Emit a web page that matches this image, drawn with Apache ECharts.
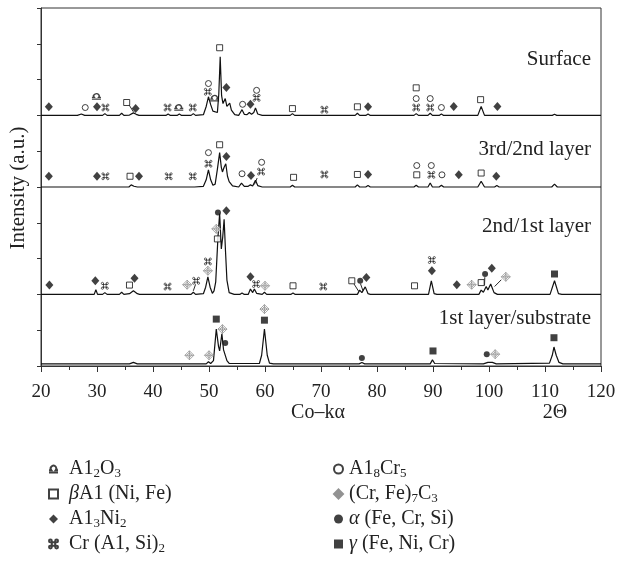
<!DOCTYPE html>
<html><head><meta charset="utf-8">
<script src="https://cdn.jsdelivr.net/npm/echarts@6/dist/echarts.min.js"></script>
<style>html,body{margin:0;padding:0;background:#fff}#c{width:617px;height:577px}</style>
</head><body><div id="c"></div>
<script>
// ---- traces: [2theta, offset intensity] ----
const surface = [[20,7.0],[26.5,7.0],[27.2,7.04],[27.8,7.0],[29.6,7.0],[29.9,7.05],[30.3,7.0],[31.0,7.0],[31.4,7.05],[31.8,7.0],[34.0,7.0],[34.4,7.06],[34.8,7.0],[35.8,7.01],[36.5,7.07],[37.0,7.03],[37.5,7.0],[42.3,7.0],[42.7,7.04],[43.1,7.0],[44.3,7.0],[44.7,7.04],[45.1,7.0],[46.8,7.0],[47.2,7.05],[47.6,7.0],[49.0,7.02],[49.5,7.25],[49.9,7.52],[50.3,7.3],[50.7,7.12],[51.0,7.1],[51.5,7.08],[51.75,7.6],[52.0,8.64],[52.25,7.55],[52.5,7.33],[52.9,7.47],[53.2,7.25],[53.4,7.3],[53.7,7.34],[54.0,7.15],[54.6,7.02],[55.3,7.0],[55.6,7.08],[55.9,7.16],[56.3,7.03],[56.8,7.02],[57.2,7.08],[57.6,7.03],[58.0,7.08],[58.3,7.21],[58.7,7.04],[59.5,7.0],[64.5,7.0],[64.9,7.05],[65.3,7.0],[70.3,7.0],[70.6,7.03],[71.0,7.0],[76.1,7.0],[76.5,7.06],[76.9,7.0],[78.0,7.0],[78.4,7.04],[78.8,7.0],[86.6,7.0],[87.0,7.05],[87.4,7.0],[89.1,7.0],[89.5,7.06],[89.9,7.0],[91.1,7.0],[91.5,7.04],[91.9,7.0],[98.0,7.0],[98.6,7.25],[99.2,7.0],[101.2,7.0],[101.5,7.03],[101.8,7.0],[111.3,7.0],[111.7,7.03],[112.1,7.0],[120,7.0]];
const layer32 = [[20,5.0],[29.6,5.0],[29.9,5.04],[30.2,5.0],[31.0,5.0],[31.3,5.05],[31.7,5.0],[34.0,5.0],[34.3,5.05],[34.7,5.0],[35.7,5.0],[36.1,5.06],[36.6,5.02],[37.2,5.0],[42.5,5.0],[42.8,5.03],[43.1,5.0],[46.8,5.0],[47.1,5.03],[47.4,5.0],[49.0,5.02],[49.5,5.2],[49.9,5.48],[50.3,5.2],[50.7,5.05],[51.1,5.08],[51.5,5.5],[51.9,5.96],[52.2,5.55],[52.4,5.42],[52.7,5.55],[53.0,5.65],[53.3,5.3],[53.6,5.15],[54.2,5.03],[55.3,5.0],[55.8,5.11],[56.3,5.02],[57.0,5.02],[57.4,5.06],[57.8,5.03],[58.3,5.19],[58.7,5.04],[59.5,5.0],[64.5,5.0],[64.9,5.05],[65.3,5.0],[70.3,5.0],[70.6,5.03],[71.0,5.0],[76.1,5.0],[76.5,5.06],[76.9,5.0],[78.0,5.0],[78.4,5.04],[78.8,5.0],[86.6,5.0],[87.0,5.05],[87.4,5.0],[89.1,5.0],[89.5,5.11],[89.9,5.0],[91.1,5.0],[91.5,5.05],[91.9,5.0],[98.0,5.0],[98.6,5.16],[99.2,5.0],[101.0,5.0],[101.4,5.04],[101.8,5.0],[111.2,5.0],[111.7,5.08],[112.2,5.0],[120,5.0]];
const layer21 = [[20,2.0],[29.5,2.0],[29.8,2.13],[30.1,2.0],[31.0,2.0],[31.4,2.05],[31.8,2.0],[34.0,2.0],[34.4,2.06],[34.8,2.0],[35.8,2.02],[36.5,2.1],[36.8,2.13],[37.2,2.02],[37.6,2.0],[42.4,2.0],[42.7,2.03],[43.0,2.0],[44.6,2.0],[44.9,2.03],[45.2,2.0],[46.8,2.0],[47.2,2.06],[47.6,2.0],[49.0,2.02],[49.4,2.2],[49.8,2.49],[50.2,2.2],[50.6,2.03],[50.9,2.1],[51.2,2.35],[51.6,3.6],[51.9,4.26],[52.2,3.27],[52.45,3.6],[52.7,4.1],[52.95,3.2],[53.2,2.4],[53.6,2.05],[54.5,2.0],[55.5,2.0],[55.9,2.04],[56.3,2.0],[57.0,2.0],[57.4,2.15],[57.8,2.05],[58.1,2.15],[58.5,2.03],[59.5,2.0],[59.9,2.06],[60.3,2.0],[64.6,2.0],[65.0,2.04],[65.4,2.0],[70.3,2.0],[70.6,2.03],[71.0,2.0],[76.5,2.0],[76.9,2.12],[77.3,2.05],[77.9,2.21],[78.4,2.02],[78.8,2.0],[86.4,2.0],[86.7,2.04],[87.0,2.0],[89.2,2.0],[89.7,2.38],[90.2,2.02],[90.7,2.0],[93.8,2.0],[94.1,2.04],[94.4,2.0],[98.2,2.0],[98.6,2.12],[99.0,2.06],[99.5,2.22],[99.8,2.12],[100.3,2.29],[100.9,2.05],[101.5,2.0],[110.9,2.0],[111.7,2.38],[112.4,2.02],[113.0,2.0],[120,2.0]];
const substrate = [[20,0.06],[35.8,0.06],[36.5,0.1],[37.2,0.06],[49.5,0.06],[49.9,0.12],[50.3,0.07],[50.8,0.15],[51.3,1.03],[51.7,0.55],[51.9,0.42],[52.3,0.9],[52.6,0.45],[52.9,0.4],[53.2,0.15],[53.6,0.07],[59.0,0.07],[59.4,0.3],[59.9,1.03],[60.4,0.3],[60.8,0.08],[61.5,0.06],[76.8,0.06],[77.3,0.1],[77.8,0.06],[89.5,0.06],[89.9,0.17],[90.3,0.07],[99.0,0.06],[99.8,0.1],[100.6,0.1],[101.3,0.06],[110.8,0.08],[111.3,0.3],[111.6,0.53],[112.0,0.3],[112.5,0.1],[113.2,0.06],[120,0.06]];

// ---- phase markers ----
const al2o3 = [[29.9,7.53],[44.6,7.22],[51.0,7.48]];
const betaAl = [[35.3,7.36],[51.9,8.89],[64.9,7.19],[76.5,7.24],[87.0,7.77],[98.5,7.44],
  [35.9,5.30],[51.9,6.18],[65.1,5.27],[76.5,5.35],[87.1,5.34],[98.6,5.39],
  [35.8,2.26],[51.5,3.55],[65.0,2.24],[75.5,2.38],[86.7,2.24],[98.6,2.33]];
const al3ni2 = [[21.4,7.24],[30.0,7.24],[36.9,7.19],[53.1,7.78],[57.4,7.31],[78.4,7.24],[93.7,7.25],[101.5,7.25],
  [21.4,5.30],[30.0,5.30],[37.5,5.30],[53.1,5.85],[57.5,5.32],[78.4,5.35],[94.6,5.34],[101.3,5.30],
  [21.5,2.26],[29.7,2.38],[36.7,2.45],[53.1,4.34],[57.4,2.49],[78.1,2.47],[89.8,2.66],[94.25,2.27],[100.5,2.73]];
const crAlSi = [[31.5,7.22],[42.6,7.22],[47.1,7.22],[49.8,7.66],[58.5,7.49],[70.6,7.16],[87.0,7.22],[89.5,7.22],
  [31.5,5.30],[42.8,5.30],[47.1,5.30],[49.9,5.65],[59.3,5.43],[70.6,5.35],[89.7,5.34],
  [31.4,2.24],[42.6,2.22],[47.7,2.38],[49.8,2.92],[58.4,2.29],[70.4,2.22],[89.8,2.96]];
const al8cr5 = [[27.9,7.22],[49.9,7.89],[56.0,7.31],[58.5,7.70],[87.0,7.47],[89.5,7.47],[91.5,7.22],
  [49.9,5.96],[55.9,5.37],[59.4,5.69],[87.1,5.60],[89.7,5.60],[91.6,5.34]];
const crFeC = [[46.1,2.27],[49.8,2.66],[51.3,3.83],[60.0,2.24],[96.9,2.27],[103.0,2.49],
  [46.5,0.30],[50.0,0.30],[52.4,1.03],[59.9,1.59],[101.1,0.33]];
const alphaFe = [[51.6,4.29],[77.0,2.38],[99.3,2.57],[52.9,0.64],[77.3,0.22],[99.6,0.33]];
const gammaFe = [[111.7,2.57],[51.3,1.31],[59.9,1.28],[90.0,0.42],[111.6,0.79]];
const leaders = [[[35.7,7.30],[36.5,7.1]],[[58.6,5.25],[58.1,5.07]],[[47.6,2.28],[47.2,2.1]],
  [[75.9,2.29],[76.75,2.08]],[[77.05,2.30],[77.5,2.1]],[[99.25,2.48],[99.2,2.25]],[[102.2,2.41],[101.0,2.22]]];

const traceNames = ['Surface','3rd/2nd layer','2nd/1st layer','1st layer/substrate'];
const xTicks = [20,30,40,50,60,70,80,90,100,110,120];

const FONT = '"Liberation Serif", "DejaVu Serif", serif';
const P_CMD = 'path://M7,4.5V15.5M13,4.5V15.5M4.5,7H15.5M4.5,13H15.5M2,4.5A2.5,2.5 0 1 0 7,4.5A2.5,2.5 0 1 0 2,4.5ZM13,4.5A2.5,2.5 0 1 0 18,4.5A2.5,2.5 0 1 0 13,4.5ZM2,15.5A2.5,2.5 0 1 0 7,15.5A2.5,2.5 0 1 0 2,15.5ZM13,15.5A2.5,2.5 0 1 0 18,15.5A2.5,2.5 0 1 0 13,15.5Z';
const P_LIBRA = 'path://M2,14H6A5,5 0 1 1 14,14H18M2,18H18';
const P_CFE = 'path://M10,1L19,10L10,19L1,10ZM10,5L15,10L10,15L5,10ZM10,1V19M1,10H19';

const legendText = {
  'Al2O3': '{g| }A1{s|2}O{s|3}',
  'bAl': '{g| }{i|β}A1 (Ni, Fe)',
  'Al3Ni2': '{g| }A1{s|3}Ni{s|2}',
  'CrAlSi': '{g| }Cr (A1, Si){s|2}',
  'Al8Cr5': '{h| }A1{s|8}Cr{s|5}',
  'CrFeC': '{h| }(Cr, Fe){s|7}C{s|3}',
  'alpha': '{h| }{i|α} (Fe, Cr, Si)',
  'gamma': '{h| }{i|γ} (Fe, Ni, Cr)'
};
const rich = {
  s: {fontSize: 13, fontFamily: FONT, color: '#222', padding: [9,0,0,0]},
  i: {fontSize: 20, fontFamily: FONT, color: '#222', fontStyle: 'italic'},
  g: {width: 6, fontSize: 20},
  h: {width: 1, fontSize: 20}
};

function trace(data) {
  return {type: 'line', data: data, symbol: 'none', smooth: false,
    lineStyle: {color: '#111', width: 1.2}, z: 2, silent: true};
}
function mk(name, data, symbol, size, style) {
  return {type: 'scatter', name: name, data: data, symbol: symbol, symbolSize: size,
    symbolKeepAspect: true, itemStyle: style, z: 5, silent: true};
}
const hollow = {color: '#fff', borderColor: '#111', borderWidth: 1};
const stroke = {color: 'rgba(0,0,0,0)', borderColor: '#111', borderWidth: 0.8};

const chart = echarts.init(document.getElementById('c'), null, {renderer: 'canvas'});
const legendBase = {orient: 'vertical', top: 453, itemWidth: 9, itemHeight: 9, itemGap: 3,
  selectedMode: false, formatter: n => legendText[n],
  textStyle: {fontSize: 20, color: '#222', fontFamily: FONT, lineHeight: 22, rich: rich}};
chart.setOption({
  animation: false,
  backgroundColor: '#fff',
  textStyle: {fontFamily: FONT},
  grid: {left: 41, right: 16, top: 8, bottom: 211, show: true, borderColor: '#333', borderWidth: 1, containLabel: false, outerBoundsMode: 'none'},
  xAxis: {type: 'value', min: 20, max: 120, interval: 10,
    axisLine: {lineStyle: {color: '#333', width: 1}},
    axisTick: {show: true, length: 6, inside: false, lineStyle: {color: '#333'}},
    minorTick: {show: true, splitNumber: 2, length: 4, lineStyle: {color: '#333'}},
    splitLine: {show: false},
    axisLabel: {fontSize: 19, color: '#222', fontFamily: FONT, margin: 17,
      formatter: v => xTicks.indexOf(v) >= 0 ? String(v) : ''}},
  yAxis: {type: 'value', min: 0, max: 10, interval: 1,
    axisLine: {show: true, lineStyle: {color: '#333', width: 1}},
    axisTick: {show: true, length: 4, inside: false, lineStyle: {color: '#333'}},
    splitLine: {show: false}, axisLabel: {show: false}},
  legend: [
    Object.assign({data: ['Al2O3','bAl','Al3Ni2','CrAlSi'], left: 43}, legendBase),
    Object.assign({data: ['Al8Cr5','CrFeC','alpha','gamma'], left: 328}, legendBase)
  ],
  graphic: [
    {type: 'text', x: 591, y: 59.5, style: {text: traceNames[0], font: '21px ' + FONT, fill: '#222', align: 'right', verticalAlign: 'middle'}},
    {type: 'text', x: 591, y: 149.5, style: {text: traceNames[1], font: '21px ' + FONT, fill: '#222', align: 'right', verticalAlign: 'middle'}},
    {type: 'text', x: 591, y: 226, style: {text: traceNames[2], font: '21px ' + FONT, fill: '#222', align: 'right', verticalAlign: 'middle'}},
    {type: 'text', x: 591, y: 318, style: {text: traceNames[3], font: '21px ' + FONT, fill: '#222', align: 'right', verticalAlign: 'middle'}},
    {type: 'text', x: 318, y: 413, style: {text: 'Co–kα', font: '20px ' + FONT, fill: '#222', align: 'center', verticalAlign: 'middle'}},
    {type: 'text', x: 555, y: 413, style: {text: '2Θ', font: '20px ' + FONT, fill: '#222', align: 'center', verticalAlign: 'middle'}},
    {type: 'text', x: 18, y: 188, rotation: Math.PI / 2, style: {text: 'Intensity (a.u.)', font: '21px ' + FONT, fill: '#222', align: 'center', verticalAlign: 'middle'}}
  ],
  series: [
    trace(surface), trace(layer32), trace(layer21), trace(substrate),
    {type: 'lines', coordinateSystem: 'cartesian2d', silent: true, z: 3,
     lineStyle: {color: '#111', width: 0.9, opacity: 1},
     data: leaders.map(c => ({coords: c}))},
    mk('Al2O3', al2o3, P_LIBRA, [9,7], Object.assign({}, stroke, {borderWidth: 1.4})),
    mk('bAl', betaAl, 'rect', 6, hollow),
    mk('Al3Ni2', al3ni2, 'diamond', [8,9], {color: '#111'}),
    mk('CrAlSi', crAlSi, P_CMD, 7, stroke),
    mk('Al8Cr5', al8cr5, 'circle', 6, hollow),
    mk('CrFeC', crFeC, P_CFE, 9, {color: '#fff', borderColor: '#777', borderWidth: 0.8}),
    mk('alpha', alphaFe, 'circle', 6, {color: '#111'}),
    mk('gamma', gammaFe, 'rect', 7, {color: '#111'})
  ]
});
</script></body></html>
